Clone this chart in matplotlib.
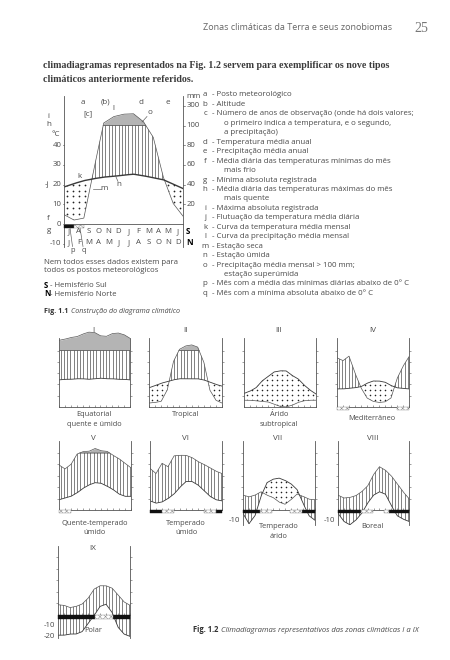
import numpy as np
import matplotlib
matplotlib.use('Agg')
import matplotlib.pyplot as plt
from matplotlib.patches import Rectangle
from matplotlib.path import Path
from matplotlib.lines import Line2D

W, H = 450, 660
SANS = ['Open Sans', 'DejaVu Sans']
SERIF = ['Liberation Serif', 'DejaVu Serif']
INK = '#4a4a4a'
LINE = '#555555'
plt.rcParams['font.family'] = SANS
plt.rcParams['hatch.linewidth'] = 0.35

# ---------------- data (values at the 13 month boundaries, x = 0..12) ----------------
months_s = ['J', 'A', 'S', 'O', 'N', 'D', 'J', 'F', 'M', 'A', 'M', 'J']
months_n = ['J', 'F', 'M', 'A', 'M', 'J', 'J', 'A', 'S', 'O', 'N', 'D']

main_temp = [18.8, 20.5, 22, 23, 23.8, 24.2, 24.8, 25.3, 24.5, 23.5, 22.5, 20.3, 18]
main_prec = [9.5, 4, 6, 55, 125, 190, 215, 220, 140, 88, 48, 21, 8]

temp_I = [24, 24.5, 24.5, 25, 25, 24.5, 25, 25.5, 25, 25, 24.5, 24.5, 24]
prec_I = [280, 300, 330, 344, 390, 425, 420, 360, 350, 400, 410, 380, 316]
temp_II = [17, 19, 21, 22.5, 24, 25, 25, 25, 25, 24, 22, 20, 18.5]
prec_II = [7, 8, 10, 30, 80, 120, 180, 200, 160, 80, 30, 12, 7]
temp_III = [12, 14, 17, 23, 27, 31, 32, 32, 28, 25, 19.5, 15, 11.5]
prec_III = [12, 12, 11, 10, 9, 5, 1, 0, 3, 8, 11, 12, 12]
temp_IV = [16, 16, 16.5, 17, 18, 21, 23, 23, 22, 19, 17, 16.5, 16]
prec_IV = [87, 82, 90, 60, 34, 16, 10, 8, 9, 16, 50, 72, 89]
temp_V = [9, 10.5, 12, 15, 19, 22, 24, 23.5, 21, 18, 14, 12, 12]
prec_V = [79, 72, 80, 98, 125, 130, 180, 140, 130, 96, 90, 82, 74]
temp_VI = [8, 6, 7, 10, 14, 20, 25, 25, 22, 17, 12, 9, 8]
prec_VI = [73, 64, 82, 76, 95, 96, 96, 92, 85, 80, 74, 68, 64]
temp_VII = [-3, -12, -5, 12, 24, 27, 28, 26, 23, 18, 6, -5, -9]
prec_VII = [26, 23, 26, 32, 26, 22, 14, 10, 18, 28, 24, 19, 18]
temp_VIII = [-3, -10, -13, -9, -3, 6, 13, 16, 14, 4, -5, -8, -10]
prec_VIII = [26, 21, 22, 25, 32, 42, 62, 76, 70, 60, 46, 32, 20]
temp_IX = [-18, -18, -17, -17, -15, -8, -1, 7, 9, 2, -11, -17, -19]
prec_IX = [17, 16, 12, 14, 18, 28, 44, 50, 50, 46, 34, 22, 16]

# months (start, end) with mean daily minimum below 0 (black) / absolute minimum below 0 (hatched)
main_black, main_hatch = [(0, 1)], [(1, 2)]
black_VI, hatch_VI = [(0, 2), (11, 12)], [(2, 4), (9, 11)]
black_VII, hatch_VII = [(0, 2.75), (9.75, 12)], [(2.75, 4.75), (7.75, 9.75)]
black_VIII, hatch_VIII = [(0, 3.85), (8.6, 12)], [(3.85, 5.85), (7.7, 8.6)]
black_IX, hatch_IX = [(0, 6.15), (9.2, 12)], [(6.15, 9.2)]
hatch_IV = [(0, 2), (10, 12)]
hatch_V = [(0, 2)]

legend_items = [
    ('a', 'Posto meteorológico'), ('b', 'Altitude'),
    ('c', 'Número de anos de observação (onde há dois valores;'),
    (None, 'o primeiro indica a temperatura, e o segundo,'), (None, 'a precipitação)'),
    ('d', 'Temperatura média anual'), ('e', 'Precipitação média anual'),
    ('f', 'Média diária das temperaturas mínimas do mês'), (None, 'mais frio'),
    ('g', 'Mínima absoluta registrada'),
    ('h', 'Média diária das temperaturas máximas do mês'), (None, 'mais quente'),
    ('i', 'Máxima absoluta registrada'), ('j', 'Flutuação da temperatura média diária'),
    ('k', 'Curva da temperatura média mensal'), ('l', 'Curva da precipitação média mensal'),
    ('m', 'Estação seca'), ('n', 'Estação úmida'),
    ('o', 'Precipitação média mensal > 100 mm;'), (None, 'estação superúmida'),
    ('p', 'Mês com a média das mínimas diárias abaixo de 0° C'),
    ('q', 'Mês com a mínima absoluta abaixo de 0° C'),
]

fig = plt.figure(figsize=(4.5, 6.6), dpi=100)
fig.patch.set_facecolor('white')
renderer = fig.canvas.get_renderer()


def fx(x):
    return x / W


def fy(y):
    return 1 - y / H


def ptext(x, y, s, size=5.5, ha='left', va='center', color=INK, **kw):
    return fig.text(fx(x), fy(y), s, fontsize=size, ha=ha, va=va, color=color, **kw)


def fitted_size(s, width, **kw):
    # font size at which the text s is `width` pixels wide
    t = ptext(0, 0, s, size=6, **kw)
    w = t.get_window_extent(renderer).width
    t.remove()
    return 6 * width / w


def text_width(t):
    return t.get_window_extent(renderer).width


def pline(x0, y0, x1, y1):
    fig.add_artist(Line2D([fx(x0), fx(x1)], [fy(y0), fy(y1)], color=LINE, lw=0.45))


def p_units(p):
    p = np.asarray(p, float)
    return np.where(p <= 100, p / 2, 50 + (p - 100) / 20)


def make_axes(x0, x1, y_zero, ppu, ymin, ymax, top):
    bottom = y_zero - ymin * ppu
    upper = y_zero - ymax * ppu
    ax = fig.add_axes([fx(x0), fy(bottom), (x1 - x0) / W, (bottom - upper) / H])
    ax.set_xlim(0, 12)
    ax.set_ylim(ymin, ymax)
    ax.patch.set_visible(False)
    for s in ['left', 'right', 'bottom']:
        ax.spines[s].set_color(LINE)
        ax.spines[s].set_linewidth(0.6)
    ax.spines['top'].set_visible(False)
    ax.spines['bottom'].set_position(('data', 0))
    ax.spines['left'].set_bounds(ymin, top)
    ax.spines['right'].set_bounds(ymin, top)
    return ax


def clip(artist, coll, ax):
    paths = coll.get_paths()
    if len(paths) == 0:
        artist.remove()
        return
    artist.set_clip_path(Path.make_compound_path(*paths), ax.transData)


def climate(ax, temp, prec, step, ddx, ddy, lw_t=0.6, dot=1.3):
    xm = np.arange(len(temp))
    xf = np.linspace(0, 12, 1201)
    tf = np.interp(xf, xm, temp)
    pf = np.interp(xf, xm, p_units(prec))
    y0, y1 = ax.get_ylim()
    wet = ax.fill_between(xf, tf, np.minimum(pf, 50), where=pf >= tf, interpolate=True,
                          facecolor='none', lw=0)
    vl = ax.vlines(np.arange(step / 2, 12, step), y0, y1, colors='#3c3c3c', lw=0.45)
    clip(vl, wet, ax)
    dry = ax.fill_between(xf, pf, tf, where=tf > pf, interpolate=True, facecolor='none', lw=0)
    gx, gy = np.meshgrid(np.arange(ddx / 2, 12, ddx), np.arange(y0 + ddy / 2, y1, ddy))
    dots = ax.scatter(gx.ravel(), gy.ravel(), s=dot, color='#222222', lw=0)
    clip(dots, dry, ax)
    ax.fill_between(xf, 50, pf, where=pf > 50, interpolate=True, color='#b4b4b4', lw=0)
    ax.plot(xf, np.where(pf > 50, 50, np.nan), color=LINE, lw=0.5)
    ax.plot(xf, pf, color=LINE, lw=0.5)
    ax.plot(xf, tf, color='#3a3a3a', lw=lw_t)


def frost(ax, spans, kind, top, bottom):
    for a, b in spans:
        if kind == 'black':
            r = Rectangle((a, bottom), b - a, top - bottom, facecolor='#111111',
                          edgecolor='#111111', lw=0.3, clip_on=False, zorder=5)
        else:
            r = Rectangle((a, bottom), b - a, top - bottom, facecolor='white',
                          edgecolor='#888888', hatch='xxxxxx', lw=0.3, clip_on=False, zorder=5)
        ax.add_patch(r)


def caption(x, y, bold, rest, size):
    t1 = ptext(x, y, bold, size=size, color='#333333', weight='bold')
    ptext(x + text_width(t1) + 2.5, y, rest, size=size, style='italic')


# ---------------- page header and body text ----------------
head = fitted_size('Zonas climáticas da Terra e seus zonobiomas', 190)
ptext(203, 28, 'Zonas climáticas da Terra e seus zonobiomas', size=head, color='#666666')
ptext(414, 29, '25', size=10, color='#777777', family=SERIF)
line1 = 'climadiagramas representados na Fig. 1.2 servem para exemplificar os nove tipos'
body = fitted_size(line1, 350, family=SERIF, weight='bold')
ptext(43, 65, line1, size=body, color='#3c3c3c', family=SERIF, weight='bold')
ptext(43, 80, 'climáticos anteriormente referidos.', size=body, color='#3c3c3c',
      family=SERIF, weight='bold')

# ---------------- Fig. 1.1 ----------------
ax = make_axes(64, 183, 224, 1.97, -11.5, 65.5, 65)
climate(ax, main_temp, main_prec, step=1 / 3, ddx=0.6, ddy=3.0, lw_t=1.0, dot=1.6)
frost(ax, main_black, 'black', -0.3, -1.9)
frost(ax, main_hatch, 'hatch', -0.3, -1.9)
ax.set_xticks([])
ax.set_yticks([])

for yv, lab in zip([40, 30, 20, 10, 0, -10], ['40', '30', '20', '10', '0', '-10']):
    ptext(61.5, 224 - yv * 1.97, lab, size=5.6, ha='right')
    pline(62.5, 224 - yv * 1.97, 64, 224 - yv * 1.97)
for yv, lab in zip([10, 20, 30, 40, 50, 60], ['20', '40', '60', '80', '100', '300']):
    ptext(186.5, 224 - yv * 1.97, lab, size=5.6)
    pline(183, 224 - yv * 1.97, 185, 224 - yv * 1.97)
ptext(186, 96, 'mm', size=5.6)

for i, (ms, mn) in enumerate(zip(months_s, months_n)):
    xp = 64 + (i + 0.5) * 119 / 12
    ptext(xp, 231.5, ms, size=5.6, ha='center')
    ptext(xp, 242.5, mn, size=5.6, ha='center')
ptext(186, 231.5, 'S', size=5.8, color='black', weight='bold')
ptext(186, 242.5, 'N', size=5.8, color='black', weight='bold')

for s, x, y in [('a', 83, 102), ('(b)', 105, 102), ('d', 141, 102), ('e', 168, 102),
                ('[c]', 88, 114), ('l', 113, 109), ('o', 150, 113), ('i', 48, 116),
                ('h', 49, 124), ('°C', 56, 134), ('-j', 47, 184), ('k', 80, 177),
                ('m', 104, 189), ('n', 119, 185), ('f', 48, 218), ('g', 49, 231)]:
    ptext(x, y, s, size=5.8, ha='center')
ptext(73, 250, 'p', size=5.4, ha='center')
ptext(84, 250, 'q', size=5.4, ha='center')
pline(93, 189, 100.5, 189)
pline(118, 181.5, 116, 177)
pline(147, 116.5, 142, 122)
pline(72.5, 246.5, 70, 228)
pline(83, 246.5, 80, 228)

# legend
fs = fitted_size('- ' + legend_items[2][1], 207)
ys = 95
for letter, text in legend_items:
    if letter is not None:
        ptext(205, ys, letter, size=fs, ha='center')
        ptext(212.5, ys, '- ' + text, size=fs)
    else:
        ptext(224.5, ys, text, size=fs)
    ys += 9.45

note = fitted_size('Nem todos esses dados existem para', 135)
ptext(44, 262, 'Nem todos esses dados existem para', size=note)
ptext(44, 271, 'todos os postos meteorológicos', size=note)
ptext(44, 285, 'S', size=note, color='black', weight='bold')
ptext(50, 285, '- Hemisfério Sul', size=note)
ptext(44, 294, 'N', size=note, color='black', weight='bold')
ptext(50.5, 294, '- Hemisfério Norte', size=note)
caption(44, 312, 'Fig. 1.1', 'Construção do diagrama climático', note * 0.92)

# ---------------- Fig. 1.2 ----------------
small = [
    ('I', temp_I, prec_I, 59, 130, 407, 1.13, 0, 67, 61, [], []),
    ('II', temp_II, prec_II, 149, 222, 407, 1.13, 0, 67, 61, [], []),
    ('III', temp_III, prec_III, 244, 316, 407, 1.13, 0, 67, 61, [], []),
    ('IV', temp_IV, prec_IV, 337, 409, 407, 1.13, 0, 67, 61, [], hatch_IV),
    ('V', temp_V, prec_V, 59, 131, 510, 1.14, 0, 62, 60.5, [], hatch_V),
    ('VI', temp_VI, prec_VI, 150, 222, 510, 1.14, 0, 62, 60.5, black_VI, hatch_VI),
    ('VII', temp_VII, prec_VII, 243, 315, 510, 1.14, -13, 62, 60.5, black_VII, hatch_VII),
    ('VIII', temp_VIII, prec_VIII, 338, 409, 510, 1.14, -13, 62, 60.5, black_VIII, hatch_VIII),
    ('IX', temp_IX, prec_IX, 58, 130, 614.5, 1.15, -20, 62, 59.6, black_IX, hatch_IX),
]
for name, tt, pp, x0, x1, yz, ppu, ymin, ymax, top, blk, hch in small:
    a = make_axes(x0, x1, yz, ppu, ymin, ymax, top)
    climate(a, tt, pp, step=0.55, ddx=0.85, ddy=4.4)
    bar_h = 4 if name == 'IX' else 3
    frost(a, blk, 'black', 0, -bar_h)
    frost(a, hch, 'hatch', 0, -bar_h)
    a.set_xticks(range(13))
    a.set_yticks([10, 20, 30, 40, 50])
    a.tick_params(axis='x', direction='in', length=1.5, width=0.4, color=LINE, labelbottom=False)
    a.tick_params(axis='y', direction='out', length=1.5, width=0.4, color=LINE,
                  left=True, right=True, labelleft=False)

numerals = [('I', 93, 331), ('II', 186, 331), ('III', 279, 331), ('IV', 373, 331),
            ('V', 93, 439), ('VI', 186, 439), ('VII', 278, 439), ('VIII', 373, 439),
            ('IX', 93, 548)]
for s, x, y in numerals:
    ptext(x, y, s, size=5.8, ha='center')

captions = [('Equatorial', 94, 415), ('quente e úmido', 94, 424), ('Tropical', 186, 415),
            ('Árido', 279, 415), ('subtropical', 279, 424), ('Mediterrâneo', 372, 418.5),
            ('Quente-temperado', 95, 523.5), ('úmido', 95, 533), ('Temperado', 186, 523.5),
            ('úmido', 186, 533), ('Temperado', 279, 526), ('árido', 279, 536),
            ('Boreal', 372, 526), ('Polar', 93, 630.5)]
cap = fitted_size('Quente-temperado', 67)
for s, x, y in captions:
    ptext(x, y, s, size=cap, ha='center')

for s, x, y in [('-10', 240, 520.5), ('-10', 335, 520.5), ('-10', 55, 625.5), ('-20', 55, 637)]:
    ptext(x, y, s, size=cap * 1.05, ha='right')

caption(193, 630, 'Fig. 1.2', 'Climadiagramas representativos das zonas climáticas I a IX', 5.5)

fig.savefig('out.png', dpi=100, facecolor='white')
